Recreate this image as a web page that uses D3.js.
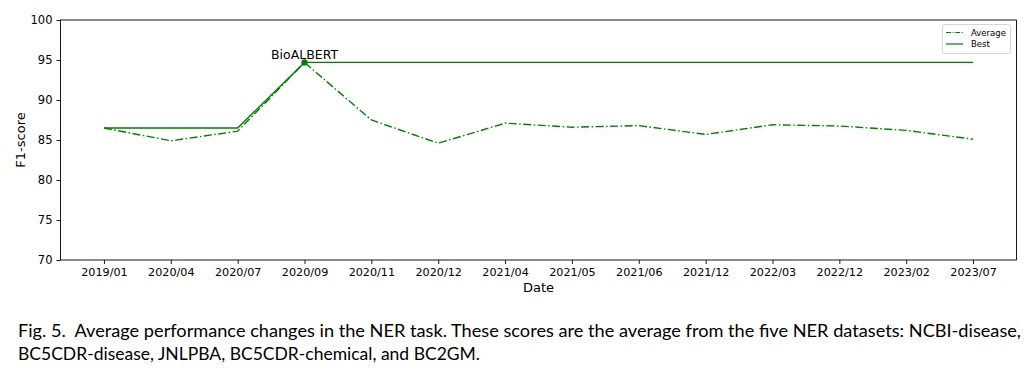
<!DOCTYPE html>
<html><head><meta charset="utf-8">
<script src="https://cdn.jsdelivr.net/npm/d3@7"></script>
<style>
body{margin:0;background:#fff;}
svg{display:block;}
</style></head>
<body>
<svg id="chart" width="1033" height="379"></svg>
<script>
const dates = ["2019/01","2020/04","2020/07","2020/09","2020/11","2020/12","2021/04","2021/05","2021/06","2021/12","2022/03","2022/12","2023/02","2023/07"];
const averageScores = [86.5,84.9,86.1,94.7,87.5,84.6,87.1,86.6,86.8,85.7,86.9,86.75,86.2,85.1];
const bestScores = [86.5,86.5,86.5,94.7,94.7,94.7,94.7,94.7,94.7,94.7,94.7,94.7,94.7,94.7];
const yTicks = [70,75,80,85,90,95,100];
const annotationLabel = "BioALBERT";
const annotationDate = "2020/09";
const captionLines = [
  "Fig. 5.  Average performance changes in the NER task. These scores are the average from the five NER datasets: NCBI-disease,",
  "BC5CDR-disease, JNLPBA, BC5CDR-chemical, and BC2GM."
];

const svg = d3.select("#chart");
const L = 60.5, R = 1016.5, T = 20, B = 260;
const green = "#008000";
const font = "DejaVu Sans, sans-serif";

const x = d3.scalePoint().domain(dates).range([L, R]).padding(0.65);
const y = d3.scaleLinear().domain([70, 100]).range([B, T]);

// axes
const xAxis = d3.axisBottom(x).tickSize(4).tickPadding(4);
const gx = svg.append("g").attr("transform", `translate(0,${B})`).call(xAxis);
gx.select(".domain").remove();
gx.selectAll("text").attr("font-family", font).attr("font-size", 11.2).attr("fill", "#000");
gx.selectAll("line").attr("stroke", "#000").attr("stroke-width", 0.9);

const yAxis = d3.axisLeft(y).tickValues(yTicks).tickSize(4).tickPadding(4);
const gy = svg.append("g").attr("transform", `translate(${L},0)`).call(yAxis);
gy.select(".domain").remove();
gy.selectAll("text").attr("font-family", font).attr("font-size", 11.5).attr("fill", "#000");
gy.selectAll("line").attr("stroke", "#000").attr("stroke-width", 0.9);

// frame
svg.append("rect").attr("x", L).attr("y", T).attr("width", R - L).attr("height", B - T)
  .attr("fill", "none").attr("stroke", "#000").attr("stroke-width", 0.9);

// lines
const line = d3.line().x((d, i) => x(dates[i])).y(d => y(d));
svg.append("path").datum(bestScores).attr("d", line)
  .attr("fill", "none").attr("stroke", green).attr("stroke-width", 1.4);
svg.append("path").datum(averageScores).attr("d", line)
  .attr("fill", "none").attr("stroke", green).attr("stroke-width", 1.4)
  .attr("stroke-dasharray", "8,2.5,1.5,2.5");

// annotation marker
const ai = dates.indexOf(annotationDate);
svg.append("circle").attr("cx", x(annotationDate)).attr("cy", y(bestScores[ai])).attr("r", 3.2).attr("fill", green);
svg.append("text").attr("x", x(annotationDate)).attr("y", y(bestScores[ai]) - 3)
  .attr("text-anchor", "middle").attr("font-family", font).attr("font-size", 12.5).attr("fill", "#000")
  .text(annotationLabel);

// axis labels
svg.append("text").attr("x", (L + R) / 2).attr("y", 292).attr("text-anchor", "middle")
  .attr("font-family", font).attr("font-size", 13).text("Date");
svg.append("text").attr("transform", `translate(25,${(T + B) / 2}) rotate(-90)`).attr("text-anchor", "middle")
  .attr("font-family", font).attr("font-size", 13).text("F1-score");

// legend
const lg = svg.append("g");
lg.append("rect").attr("x", 942.5).attr("y", 24.5).attr("width", 68).attr("height", 29).attr("rx", 2)
  .attr("fill", "#fff").attr("stroke", "#ccc").attr("stroke-width", 0.8);
const legendItems = [{name: "Average", dash: "5,1.6,1,1.6"}, {name: "Best", dash: null}];
legendItems.forEach((d, i) => {
  const yy = 32.5 + i * 11.5;
  const ln = lg.append("line").attr("x1", 946).attr("x2", 963).attr("y1", yy).attr("y2", yy)
    .attr("stroke", green).attr("stroke-width", 1.2);
  if (d.dash) ln.attr("stroke-dasharray", d.dash);
  lg.append("text").attr("x", 971).attr("y", yy + 3).attr("font-family", font).attr("font-size", 8.5)
    .attr("fill", "#000").text(d.name);
});

// caption
const capWidths = [1003, 462];
captionLines.forEach((t, i) => {
  svg.append("text").attr("x", 18).attr("y", 337 + i * 23)
    .attr("font-family", "Lato, sans-serif").attr("font-size", 16.5).attr("fill", "#000")
    .attr("textLength", capWidths[i]).attr("lengthAdjust", "spacingAndGlyphs")
    .style("white-space", "pre").text(t);
});
</script>
</body></html>
